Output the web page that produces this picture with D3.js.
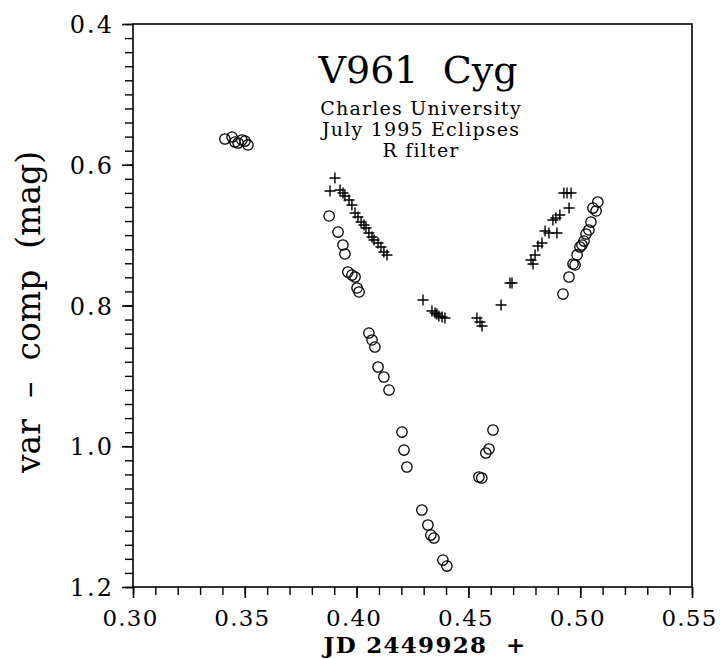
<!DOCTYPE html>
<html>
<head>
<meta charset="utf-8">
<script src="https://cdn.jsdelivr.net/npm/d3@7"></script>
<style>
  body { margin: 0; background: #fff; }
  text { font-family: "DejaVu Serif", serif; fill: #000; }
</style>
</head>
<body>
<div id="chart"></div>
<script>
// V961 Cyg light curve, Charles University, July 1995 eclipses, R filter

// circles (one eclipse night)
const circleJD = [0.3411, 0.3443, 0.3456, 0.3470, 0.3487, 0.3501, 0.3514,
  0.3877, 0.3917, 0.3939, 0.3948, 0.3961, 0.3979, 0.3993, 0.4002, 0.4011,
  0.4055, 0.4069, 0.4082, 0.4096, 0.4122, 0.4145,
  0.4203, 0.4212, 0.4225, 0.4292, 0.4319, 0.4332, 0.4346, 0.4386, 0.4404,
  0.4547, 0.4560, 0.4578, 0.4592, 0.4610,
  0.4923, 0.4950, 0.4968, 0.4977, 0.4986, 0.4999, 0.5008, 0.5017, 0.5026,
  0.5039, 0.5048, 0.5057, 0.5071, 0.5079];
const circleMag = [0.5634, 0.5606, 0.5677, 0.5691, 0.5648, 0.5663, 0.5719,
  0.6728, 0.6956, 0.7140, 0.7268, 0.7524, 0.7567, 0.7595, 0.7751, 0.7808,
  0.8391, 0.8490, 0.8590, 0.8874, 0.9016, 0.9201,
  0.9798, 1.0054, 1.0295, 1.0906, 1.1119, 1.1262, 1.1304, 1.1617, 1.1702,
  1.0437, 1.0451, 1.0096, 1.0039, 0.9769,
  0.7837, 0.7595, 0.7410, 0.7424, 0.7282, 0.7169, 0.7140, 0.7084, 0.6984,
  0.6927, 0.6814, 0.6615, 0.6657, 0.6529];

// pluses (the other eclipse night)
const plusJD = [0.3903, 0.3881, 0.3926, 0.3939, 0.3948, 0.3966, 0.3979, 0.3993,
  0.4006, 0.4020, 0.4033, 0.4042, 0.4055, 0.4069, 0.4078, 0.4096, 0.4109,
  0.4122, 0.4136,
  0.4297, 0.4337, 0.4351, 0.4359, 0.4368, 0.4382, 0.4395,
  0.4538, 0.4552, 0.4561, 0.4646, 0.4686, 0.4695,
  0.4780, 0.4789, 0.4798, 0.4811, 0.4829, 0.4843, 0.4860, 0.4896, 0.4878,
  0.4891, 0.4909, 0.4950, 0.4927, 0.4941, 0.4959];
const plusMag = [0.6188, 0.6373, 0.6359, 0.6401, 0.6444, 0.6501, 0.6572, 0.6686,
  0.6743, 0.6814, 0.6856, 0.6899, 0.6970, 0.7027, 0.7069, 0.7112, 0.7169,
  0.7240, 0.7282,
  0.7922, 0.8078, 0.8107, 0.8121, 0.8149, 0.8164, 0.8178,
  0.8178, 0.8235, 0.8291, 0.7993, 0.7681, 0.7681,
  0.7354, 0.7410, 0.7282, 0.7155, 0.7112, 0.6942, 0.6970, 0.6970, 0.6786,
  0.6757, 0.6715, 0.6615, 0.6401, 0.6401, 0.6401];

const xMajor = [0.30, 0.35, 0.40, 0.45, 0.50, 0.55];
const yMajor = [0.4, 0.6, 0.8, 1.0, 1.2];
const titleLines = ["Charles University", "July 1995 Eclipses", "R filter"];

main();

function main() {
  const width = 720;
  const height = 659;
  const margin = {top: 24, right: 28, bottom: 72, left: 133};

  const x = d3.scaleLinear([0.30, 0.55], [margin.left, width - margin.right]);
  const y = d3.scaleLinear([0.4, 1.2], [margin.top, height - margin.bottom]);

  const xMinor = d3.range(0, 26).map(i => +(0.30 + i * 0.01).toFixed(2));
  const yMinor = d3.range(0, 41).map(i => +(0.4 + i * 0.02).toFixed(2));

  const svg = d3.select("#chart").append("svg")
      .attr("width", width)
      .attr("height", height)
      .attr("viewBox", [0, 0, width, height]);

  // frame
  svg.append("rect")
      .attr("x", x(0.30))
      .attr("y", y(0.4))
      .attr("width", x(0.55) - x(0.30))
      .attr("height", y(1.2) - y(0.4))
      .attr("fill", "none")
      .attr("stroke", "#000")
      .attr("stroke-width", 1.6);

  // minor ticks
  svg.append("g")
      .attr("transform", `translate(${margin.left},0)`)
      .call(d3.axisLeft(y).tickValues(yMinor).tickSize(8).tickFormat(""))
      .call(g => g.select(".domain").remove())
      .call(g => g.selectAll(".tick line").attr("stroke-width", 1.4));
  svg.append("g")
      .attr("transform", `translate(0,${height - margin.bottom})`)
      .call(d3.axisBottom(x).tickValues(xMinor).tickSize(8).tickFormat(""))
      .call(g => g.select(".domain").remove())
      .call(g => g.selectAll(".tick line").attr("stroke-width", 1.4));

  // major ticks + labels
  svg.append("g")
      .attr("transform", `translate(${margin.left},0)`)
      .call(d3.axisLeft(y).tickValues(yMajor).tickSize(11).tickPadding(8).tickFormat(d3.format(".1f")))
      .call(g => g.select(".domain").remove())
      .call(g => g.selectAll(".tick line").attr("stroke-width", 1.6))
      .call(g => g.selectAll(".tick text")
          .attr("font-family", "DejaVu Serif")
          .attr("font-size", 24)
          .attr("letter-spacing", 2)
          .attr("dy", "0.36em"));
  svg.append("g")
      .attr("transform", `translate(0,${height - margin.bottom})`)
      .call(d3.axisBottom(x).tickValues(xMajor).tickSize(11).tickPadding(10).tickFormat(d3.format(".2f")))
      .call(g => g.select(".domain").remove())
      .call(g => g.selectAll(".tick line").attr("stroke-width", 1.6))
      .call(g => g.selectAll(".tick text")
          .attr("font-family", "DejaVu Serif")
          .attr("font-size", 23)
          .attr("letter-spacing", 1.2)
          .attr("dx", -3)
          .attr("dy", "0.78em"));

  // axis titles
  svg.append("text")
      .attr("x", 425)
      .attr("y", 653)
      .attr("text-anchor", "middle")
      .attr("font-size", 23)
      .attr("font-weight", "bold")
      .attr("letter-spacing", 1.3)
      .text("JD\u00A02449928\u00A0\u00A0+");

  svg.append("text")
      .attr("transform", "translate(40,312) rotate(-90)")
      .attr("text-anchor", "middle")
      .attr("font-size", 33)
      .text("var\u00A0\u00A0–\u00A0\u00A0comp\u00A0\u00A0(mag)");

  // title block
  const tx = x(0.4275);
  svg.append("text")
      .attr("x", tx)
      .attr("y", 83)
      .attr("text-anchor", "middle")
      .attr("font-size", 38)
      .text("V961\u00A0\u00A0Cyg");

  svg.append("g")
    .selectAll("text")
    .data(titleLines)
    .join("text")
      .attr("x", tx + 3)
      .attr("y", (d, i) => 115 + i * 21)
      .attr("text-anchor", "middle")
      .attr("font-size", 19)
      .attr("letter-spacing", 1.2)
      .text(d => d);

  // data: circles
  svg.append("g")
      .attr("fill", "none")
      .attr("stroke", "#000")
      .attr("stroke-width", 1.3)
    .selectAll("circle")
    .data(d3.range(circleJD.length))
    .join("circle")
      .attr("cx", i => x(circleJD[i]))
      .attr("cy", i => y(circleMag[i]))
      .attr("r", 5.2);

  // data: pluses
  const s = 5.5;
  svg.append("g")
      .attr("fill", "none")
      .attr("stroke", "#000")
      .attr("stroke-width", 1.4)
    .selectAll("path")
    .data(d3.range(plusJD.length))
    .join("path")
      .attr("transform", i => `translate(${x(plusJD[i])},${y(plusMag[i])})`)
      .attr("d", `M${-s},0H${s}M0,${-s}V${s}`);
}
</script>
</body>
</html>
